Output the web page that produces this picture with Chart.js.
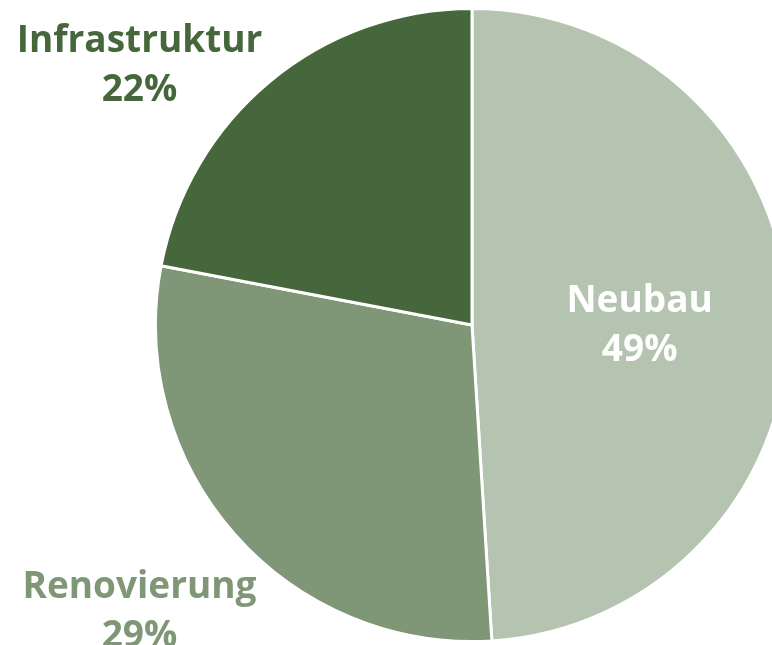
<!DOCTYPE html>
<html>
<head>
<meta charset="utf-8">
<script src="https://cdn.jsdelivr.net/npm/chart.js@4/dist/chart.umd.min.js"></script>
<style>
    html, body { margin: 0; padding: 0; background: #fff; overflow: hidden; }
    #wrap { position: absolute; left: 0; top: 0; width: 800px; height: 645px; }
</style>
</head>
<body>
<div id="wrap"><canvas id="pie" width="800" height="645"></canvas></div>
<script>
// data
const categories = ['Neubau', 'Renovierung', 'Infrastruktur'];
const shares = [49, 29, 22];
const sliceColors = ['#b5c4b1', '#7f9677', '#46673c'];
const labelColors = ['#ffffff', '#7f9677', '#46673c'];
const insideLabel = [true, false, false];

const FONT = 'bold 37px "Open Sans"';
const LINE_GAP = 49;

// draws "Name / NN%" on or beside each slice
const sliceLabels = {
    id: 'sliceLabels',
    afterDatasetsDraw(chart) {
        const ctx = chart.ctx;
        const meta = chart.getDatasetMeta(0);
        ctx.save();
        ctx.font = FONT;
        ctx.textAlign = 'center';
        ctx.textBaseline = 'middle';
        meta.data.forEach((arc, i) => {
            const p = arc.getProps(['x', 'y', 'startAngle', 'endAngle', 'outerRadius'], true);
            const mid = (p.startAngle + p.endAngle) / 2;
            let x, y;
            if (insideLabel[i]) {
                x = p.x + Math.cos(mid) * p.outerRadius * 0.53;
                y = p.y + 1;
            } else {
                // outside labels sit just left of the pie, clamped to the top
                x = p.x - p.outerRadius - 16;
                y = p.y + Math.sin(mid) * p.outerRadius * 1.36 + 2;
                y = Math.max(y, 66);
            }
            ctx.fillStyle = labelColors[i];
            ctx.fillText(categories[i], x, y - LINE_GAP / 2);
            ctx.fillText(shares[i] + '%', x, y + LINE_GAP / 2);
        });
        ctx.restore();
    }
};

function renderPie() {
    const ctx = document.getElementById('pie').getContext('2d');
    new Chart(ctx, {
        type: 'pie',
        data: {
            labels: categories,
            datasets: [{
                data: shares,
                backgroundColor: sliceColors,
                borderColor: '#ffffff',
                borderWidth: 3
            }]
        },
        options: {
            responsive: false,
            animation: false,
            layout: { padding: { left: 154, right: 10, top: 7, bottom: 2 } },
            plugins: {
                legend: { display: false },
                tooltip: { enabled: false }
            }
        },
        plugins: [sliceLabels]
    });
}

document.fonts.load(FONT).then(renderPie, renderPie);
</script>
</body>
</html>
